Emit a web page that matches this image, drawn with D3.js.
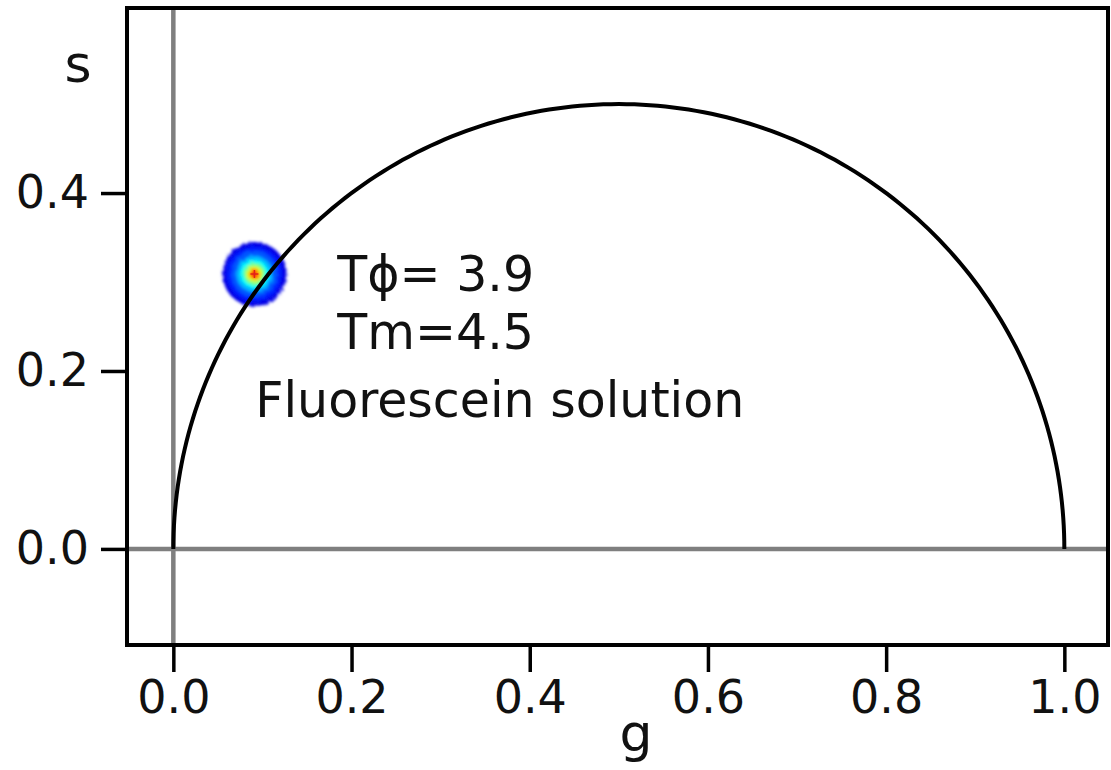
<!DOCTYPE html>
<html>
<head>
<meta charset="utf-8">
<script src="https://cdn.jsdelivr.net/npm/d3@7"></script>
<style>
  body { margin: 0; background: #fff; }
  text { font-family: "DejaVu Sans", sans-serif; fill: #111; }
</style>
</head>
<body>
<svg id="chart" width="1111" height="770"></svg>
<script>
// Data
const gDomain = [-0.052, 1.049]
const sDomain = [-0.108, 0.608]
const gTicks = [0.0, 0.2, 0.4, 0.6, 0.8, 1.0]
const sTicks = [0.0, 0.2, 0.4]
// universal semicircle, sampled by angle (degrees)
const circleAngles = d3.range(0, 181, 1)
// density blob of the fluorescein sample (radius in g units, jet level 0..1)
const blobCenter = [0.091, 0.309]
const blobRadii  = [0.036, 0.031, 0.026, 0.0205, 0.016, 0.0125, 0.0095, 0.0065, 0.004]
const blobLevels = [0.1, 0.15, 0.21, 0.3, 0.38, 0.48, 0.58, 0.7, 0.82]
const labels = ['Tϕ= 3.9', 'Tm=4.5', 'Fluorescein solution']
const labelPos = [[0.184, 0.29], [0.184, 0.225], [0.092, 0.148]]

// Layout
const axLeft = 127, axRight = 1108, axTop = 8, axBottom = 645
const svg = d3.select('#chart')

const xScale = d3.scaleLinear().domain(gDomain).range([axLeft, axRight])
const yScale = d3.scaleLinear().domain(sDomain).range([axBottom, axTop])

function jet(v){
    const r = Math.min(Math.max(1.5 - Math.abs(4*v - 3), 0), 1)
    const g = Math.min(Math.max(1.5 - Math.abs(4*v - 2), 0), 1)
    const b = Math.min(Math.max(1.5 - Math.abs(4*v - 1), 0), 1)
    return d3.rgb(r*255, g*255, b*255)
}

const defs = svg.append('defs')
defs.append('clipPath').attr('id', 'clip')
    .append('rect')
    .attr('x', axLeft).attr('y', axTop)
    .attr('width', axRight - axLeft).attr('height', axBottom - axTop)

// ragged, slightly soft edge for the histogram blob
const soft = defs.append('filter').attr('id', 'soft')
    .attr('x', '-30%').attr('y', '-30%').attr('width', '160%').attr('height', '160%')
soft.append('feTurbulence')
    .attr('type', 'fractalNoise').attr('baseFrequency', 0.35)
    .attr('numOctaves', 2).attr('seed', 3).attr('result', 'noise')
soft.append('feDisplacementMap')
    .attr('in', 'SourceGraphic').attr('in2', 'noise')
    .attr('scale', 5).attr('result', 'rough')
soft.append('feGaussianBlur')
    .attr('in', 'rough').attr('stdDeviation', 1.5)

const plot = svg.append('g').attr('clip-path', 'url(#clip)')

// Zero lines
plot.append('line')
    .attr('x1', axLeft).attr('x2', axRight)
    .attr('y1', yScale(0)).attr('y2', yScale(0))
    .style('stroke', '#7f7f7f').style('stroke-width', 4.5)
plot.append('line')
    .attr('x1', xScale(0)).attr('x2', xScale(0))
    .attr('y1', axTop).attr('y2', axBottom)
    .style('stroke', '#7f7f7f').style('stroke-width', 4.5)

// Blob
plot.append('g').attr('filter', 'url(#soft)')
    .selectAll('circle')
    .data(blobRadii)
    .enter()
    .append('circle')
    .attr('cx', xScale(blobCenter[0]))
    .attr('cy', yScale(blobCenter[1]))
    .attr('r', d => xScale(d) - xScale(0))
    .style('fill', (_, i) => jet(blobLevels[i]))

// small red cross at the centre
const cx = xScale(blobCenter[0]), cy = yScale(blobCenter[1])
plot.append('path')
    .attr('d', `M${cx-4},${cy}H${cx+4}M${cx},${cy-4}V${cy+4}`)
    .style('stroke', '#e0201a').style('stroke-width', 1.5)

// Semicircle
const line = d3.line()
    .x(a => xScale(0.5 + 0.5*Math.cos(a*Math.PI/180)))
    .y(a => yScale(0.5*Math.sin(a*Math.PI/180)))
plot.append('path')
    .datum(circleAngles)
    .attr('d', line)
    .style('fill', 'none')
    .style('stroke', '#000')
    .style('stroke-width', 4)

// Text labels
svg.selectAll('.label')
    .data(labels)
    .enter()
    .append('text')
    .classed('label', true)
    .attr('x', (_, i) => xScale(labelPos[i][0]))
    .attr('y', (_, i) => yScale(labelPos[i][1]))
    .style('font-size', '49px')
    .text(d => d)

// Axes
const xAxis = d3.axisBottom(xScale)
    .tickValues(gTicks)
    .tickFormat(d3.format('.1f'))
    .tickSize(27)
    .tickPadding(8)
const yAxis = d3.axisLeft(yScale)
    .tickValues(sTicks)
    .tickFormat(d3.format('.1f'))
    .tickSize(26)
    .tickPadding(12)

const gx = svg.append('g')
    .attr('transform', 'translate(0,' + axBottom + ')')
    .call(xAxis)
const gy = svg.append('g')
    .attr('transform', 'translate(' + axLeft + ',0)')
    .call(yAxis)

;[gx, gy].forEach(a => {
    a.select('.domain').remove()
    a.selectAll('.tick line').style('stroke', '#000').style('stroke-width', 3.5)
    a.selectAll('.tick text')
        .style('font-size', '46px')
        .style('font-family', '"DejaVu Sans", sans-serif')
        .style('fill', '#111')
})

// Frame
svg.append('rect')
    .attr('x', axLeft).attr('y', axTop)
    .attr('width', axRight - axLeft).attr('height', axBottom - axTop)
    .style('fill', 'none')
    .style('stroke', '#000')
    .style('stroke-width', 4)

// Axis labels
svg.append('text')
    .attr('x', 636).attr('y', 751)
    .attr('text-anchor', 'middle')
    .style('font-size', '52px')
    .text('g')
svg.append('text')
    .attr('x', 78).attr('y', 82)
    .attr('text-anchor', 'middle')
    .style('font-size', '52px')
    .text('s')
</script>
</body>
</html>
